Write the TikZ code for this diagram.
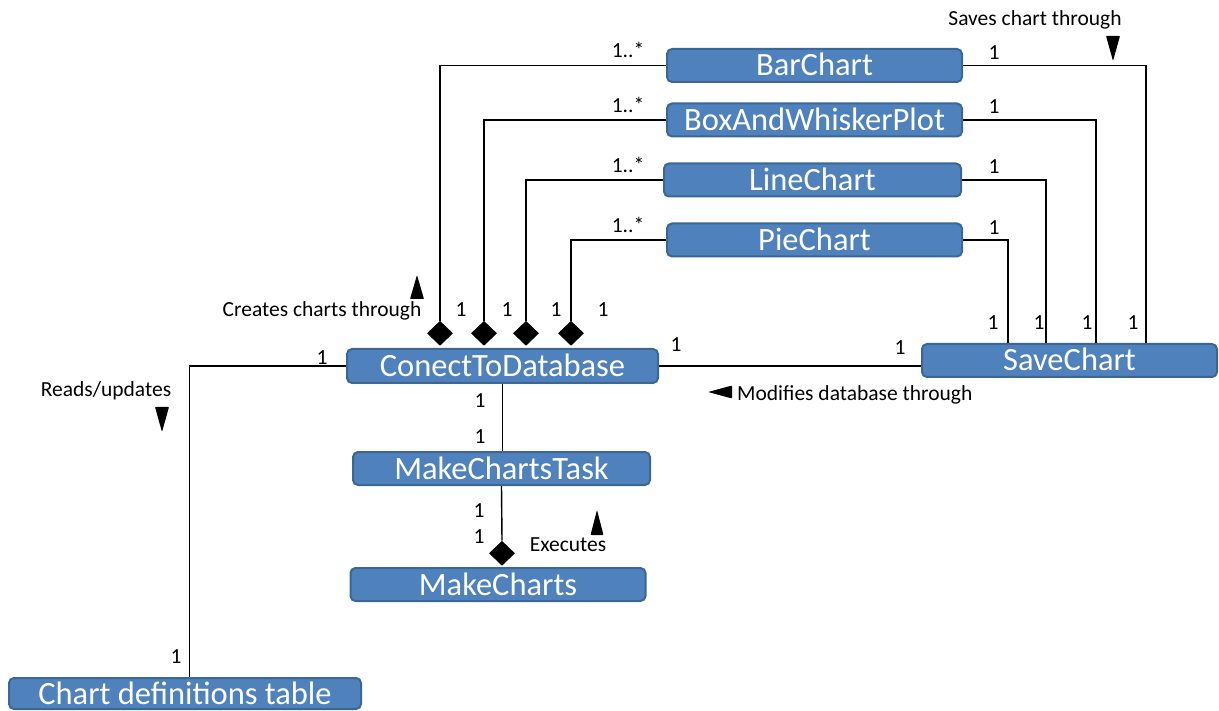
\documentclass[tikz,border=0pt]{standalone}
\usepackage{fontspec}
\setmainfont{Carlito}
\usetikzlibrary{shapes.geometric,calc}

\definecolor{clsfill}{HTML}{4F81BD}
\definecolor{clsborder}{HTML}{3A6794}

\begin{document}
\begin{tikzpicture}[
  x=1pt, y=-1pt,
  font=\fontsize{21.5}{24}\selectfont,
  cls/.style={draw=clsborder, fill=clsfill, line width=2pt, rounded corners=5pt,
              text=white, font=\fontsize{32.5}{36}\selectfont, inner sep=0pt,
              minimum width=295pt, minimum height=33pt, text height=21pt, text depth=0pt},
  agg/.style={diamond, fill=black, inner sep=0pt, minimum width=26pt, minimum height=25pt},
  conn/.style={line width=1.4pt},
  mult/.style={anchor=base, inner sep=0pt},
  role/.style={anchor=base, inner sep=0pt},
  dir/.style={fill=black, rounded corners=0.8pt},
]
\useasboundingbox (0,0) rectangle (1219,711);

%% ---------- classes ----------
\node[cls] (bar) at (814.5,65.5) {BarChart};
\node[cls] (bwp) at (814.5,120) {BoxAndWhiskerPlot};
\node[cls, minimum width=297pt] (line) at (812.5,180) {LineChart};
\node[cls] (pie) at (814.5,240) {PieChart};
\node[cls, minimum width=311pt, minimum height=34pt] (db) at (502.5,366) {ConectToDatabase};
\node[cls] (save) at (1069.5,360.5) {SaveChart};
\node[cls, minimum width=297pt] (task) at (501.5,468.5) {MakeChartsTask};
\node[cls] (charts) at (498,584.5) {MakeCharts};
\node[cls, minimum width=352pt, minimum height=31pt] (table) at (185,693.5) {Chart definitions table};

%% aggregation diamonds
\node[agg, anchor=south] (aBar) at ($(db.north)+(-62.5,-2)$) {};
\node[agg, anchor=south] (aBwp) at ($(db.north)+(-18.5,-2)$) {};
\node[agg, anchor=south] (aLine) at ($(db.north)+(23.5,-2)$) {};
\node[agg, anchor=south] (aPie) at ($(db.north)+(68.5,-2)$) {};
\node[agg, anchor=south] (aExec) at ($(charts.north)+(4,-1)$) {};

%% chart classes -> ConectToDatabase
\draw[conn] (bar.west) -| (aBar.north);
\draw[conn] (bwp.west) -| (aBwp.north);
\draw[conn] (line.west) -| (aLine.north);
\draw[conn] (pie.west) -| (aPie.north);

%% chart classes -> SaveChart
\draw[conn] (bar.east) -| ($(save.north)+(76.5,0)$);
\draw[conn] (bwp.east) -| ($(save.north)+(26.5,0)$);
\draw[conn] (line.east) -| ($(save.north)+(-23.5,0)$);
\draw[conn] (pie.east) -| ($(save.north)+(-61.5,0)$);

%% the rest
\draw[conn] (db.east) -- (db.east -| save.west);
\draw[conn] (db.west) -| ($(table.north)+(4.5,0)$);
\draw[conn] (db.south) -- (db.south |- task.north);
\draw[conn] (task.south) -- (aExec.north);

%% direction marks
\coordinate (tSave) at (1113,61);
\coordinate (tCreate) at (417,275);
\coordinate (tRead) at (162,432);
\coordinate (tExec) at (597,510);
\coordinate (tMod) at (708,392);
\fill[dir] (tSave) -- ++(-7,-25) -- ++(14,0) -- cycle;
\fill[dir] (tCreate) -- ++(-7,24) -- ++(14,0) -- cycle;
\fill[dir] (tRead) -- ++(-7,-25) -- ++(14,0) -- cycle;
\fill[dir] (tExec) -- ++(-6.5,25) -- ++(13,0) -- cycle;
\fill[dir] (tMod) -- ++(24,-6.5) -- ++(0,13) -- cycle;

%% association names
\node[role] (lSave) at (1035,26) {Saves chart through};
\node[role] (lCreate) at (322,317) {Creates charts through};
\node[role] (lRead) at (106,397) {Reads/updates};
\node[role, anchor=base west] (lMod) at (737,401) {Modifies database through};
\node[role] (lExec) at (568,551) {Executes};

%% multiplicities
\node[mult] (mBarL) at (628,58) {1..*};
\node[mult] (mBwpL) at (628,113) {1..*};
\node[mult] (mLineL) at (628,173) {1..*};
\node[mult] (mPieL) at (628,233) {1..*};
\node[mult] (mBarR) at (994,60) {1};
\node[mult] (mBwpR) at (994,114) {1};
\node[mult] (mLineR) at (994,174) {1};
\node[mult] (mPieR) at (994,235) {1};
\node[mult] (mDb1) at (461,317) {1};
\node[mult] (mDb2) at (507,317) {1};
\node[mult] (mDb3) at (556,317) {1};
\node[mult] (mDb4) at (603,317) {1};
\node[mult] (mSv1) at (993,330) {1};
\node[mult] (mSv2) at (1039,330) {1};
\node[mult] (mSv3) at (1087,330) {1};
\node[mult] (mSv4) at (1133,330) {1};
\node[mult] (mDbSv) at (676,352) {1};
\node[mult] (mSvDb) at (900,355) {1};
\node[mult] (mDbTab) at (322,365) {1};
\node[mult] (mTabDb) at (176,663) {1};
\node[mult] (mDbTask) at (480,408) {1};
\node[mult] (mTaskDb) at (480,443) {1};
\node[mult] (mTaskMk) at (479,517) {1};
\node[mult] (mMkTask) at (479,543) {1};

\end{tikzpicture}
\end{document}
